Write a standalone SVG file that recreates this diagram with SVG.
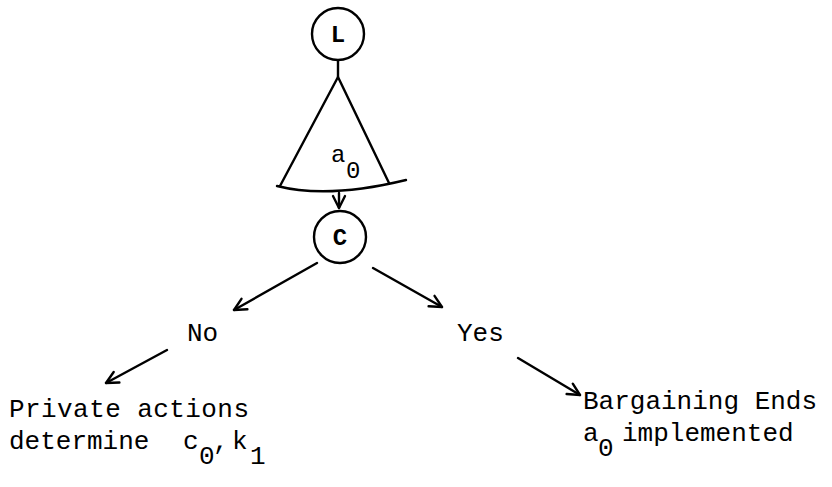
<svg xmlns="http://www.w3.org/2000/svg" width="832" height="487" viewBox="0 0 832 487">
  <style>
    .ln { fill: none; stroke: #000; stroke-width: 2.4; stroke-linecap: round; stroke-linejoin: round; }
    .node { fill: #fff; stroke: #000; stroke-width: 2.4; }
    .t { font-family: "Liberation Mono", "DejaVu Sans Mono", monospace; font-size: 26px; fill: #000; }
    .nt { font-family: "Liberation Mono", "DejaVu Sans Mono", monospace; font-size: 24px; font-weight: bold; fill: #000; text-anchor: middle; }
  </style>
  <defs>
    <marker id="head" viewBox="-14 -8 16 16" refX="0" refY="0" markerWidth="16" markerHeight="16" markerUnits="userSpaceOnUse" orient="auto">
      <polyline points="-12,-6 0,0 -12,6" fill="none" stroke="#000" stroke-width="2.4" stroke-linecap="round" stroke-linejoin="round"/>
    </marker>
  </defs>
  <rect width="832" height="487" fill="#fff"/>

  <!-- connectors -->
  <g id="connectors">
    <line class="ln" x1="338" y1="61" x2="338" y2="77"/>
    <line class="ln" x1="339" y1="193" x2="339" y2="208" marker-end="url(#head)"/>
    <line class="ln" x1="317" y1="263" x2="234" y2="310" marker-end="url(#head)"/>
    <line class="ln" x1="373" y1="268" x2="442" y2="307" marker-end="url(#head)"/>
    <line class="ln" x1="167" y1="350" x2="106" y2="383" marker-end="url(#head)"/>
    <line class="ln" x1="518" y1="358" x2="580" y2="395" marker-end="url(#head)"/>
  </g>

  <!-- leader L -->
  <g id="node-L">
    <circle class="node" cx="338" cy="34" r="26"/>
    <text class="nt" x="338" y="42">L</text>
  </g>

  <!-- proposal fan -->
  <g id="fan">
    <polyline class="ln" points="280,186 338,77 389,183"/>
    <path class="ln" d="M277,186 Q328,199 406,180"/>
    <text class="t" x="331" y="162" style="font-size:24px">a<tspan x="346" y="178">0</tspan></text>
  </g>

  <!-- chooser C -->
  <g id="node-C">
    <circle class="node" cx="340" cy="237" r="26"/>
    <text class="nt" x="340" y="245">C</text>
  </g>

  <g id="label-no">
    <text class="t" x="187" y="341">No</text>
  </g>
  <g id="label-yes">
    <text class="t" x="457" y="341">Yes</text>
  </g>

  <g id="outcome-no">
    <text class="t" x="9" y="417" textLength="240" lengthAdjust="spacing">Private actions</text>
    <text class="t" x="9" y="449">determine<tspan x="183">c</tspan><tspan x="199" y="464">0</tspan><tspan x="213" y="449">,</tspan><tspan x="232">k</tspan><tspan x="250" y="464">1</tspan></text>
  </g>

  <g id="outcome-yes">
    <text class="t" x="583" y="409">Bargaining Ends</text>
    <text class="t" x="583" y="441">a<tspan x="598" y="456">0</tspan><tspan x="622" y="441">implemented</tspan></text>
  </g>
</svg>
